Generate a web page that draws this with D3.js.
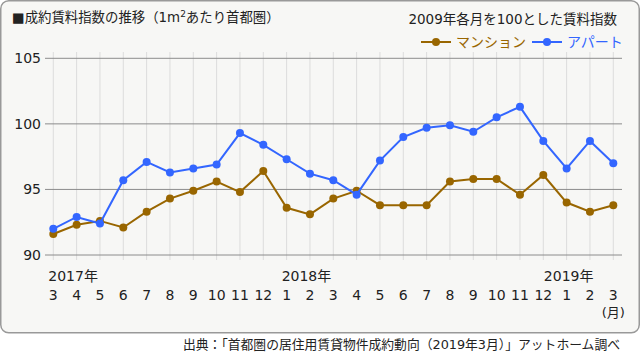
<!DOCTYPE html>
<html>
<head>
<meta charset="utf-8">
<script src="https://cdn.jsdelivr.net/npm/d3@7"></script>
<style>
  body { margin: 0; background: #fff; }
  svg { display: block; font-family: "DejaVu Sans", "Noto Sans CJK JP", sans-serif; }
</style>
</head>
<body>
<div id="chart"></div>
<script>
// months from 2017/3 to 2019/3
const months = [3, 4, 5, 6, 7, 8, 9, 10, 11, 12, 1, 2, 3, 4, 5, 6, 7, 8, 9, 10, 11, 12, 1, 2, 3];
const yearLabels = [{ i: 0, text: "2017年" }, { i: 10, text: "2018年" }, { i: 22, text: "2019年" }];
const mansion = [91.6, 92.3, 92.6, 92.1, 93.3, 94.3, 94.9, 95.6, 94.8, 96.4, 93.6, 93.1, 94.3, 94.9,
                 93.8, 93.8, 93.8, 95.6, 95.8, 95.8, 94.6, 96.1, 94.0, 93.3, 93.8];
const apart = [92.0, 92.9, 92.4, 95.7, 97.1, 96.3, 96.6, 96.9, 99.3, 98.4, 97.3, 96.2, 95.7, 94.6,
               97.2, 99.0, 99.7, 99.9, 99.4, 100.5, 101.3, 98.7, 96.6, 98.7, 97.0];
const yTicks = [90, 95, 100, 105];

const series = [
  { name: "マンション", values: mansion, color: "#996600" },
  { name: "アパート", values: apart, color: "#3366ff" }
];

const W = 640, H = 354;
const svg = d3.select("#chart").append("svg")
  .attr("width", W).attr("height", H);

// panel
svg.append("rect")
  .attr("x", 0.75).attr("y", 0.75)
  .attr("width", W - 1.5).attr("height", 332)
  .attr("rx", 8)
  .attr("fill", "#f7f7f5")
  .attr("stroke", "#999").attr("stroke-width", 1.5);

const x = d3.scaleLinear().domain([0, months.length - 1]).range([53.3, 613.3]);
const y = d3.scaleLinear().domain([90, 105]).range([255, 58.3]);

// vertical grid
svg.append("g").selectAll("line")
  .data(months)
  .join("line")
  .attr("x1", (d, i) => x(i)).attr("x2", (d, i) => x(i))
  .attr("y1", 52).attr("y2", 260)
  .attr("stroke", "#dcdcdc").attr("stroke-width", 1);

// horizontal grid
svg.append("g").selectAll("line")
  .data(yTicks)
  .join("line")
  .attr("x1", 45).attr("x2", 622)
  .attr("y1", d => y(d)).attr("y2", d => y(d))
  .attr("stroke", "#8c8c8c").attr("stroke-width", 1);

svg.append("g").selectAll("text")
  .data(yTicks)
  .join("text")
  .attr("x", 41).attr("y", d => y(d))
  .attr("dy", "0.36em")
  .attr("text-anchor", "end")
  .attr("font-size", 14)
  .attr("fill", "#222")
  .text(d => d);

// month labels
svg.append("g").selectAll("text")
  .data(months)
  .join("text")
  .attr("x", (d, i) => x(i)).attr("y", 300)
  .attr("text-anchor", "middle")
  .attr("font-size", 14)
  .attr("fill", "#222")
  .text(d => d);

svg.append("g").selectAll("text")
  .data(yearLabels)
  .join("text")
  .attr("x", d => d.i === 22 ? x(d.i) + 2 : x(d.i) - 5).attr("y", 281)
  .attr("text-anchor", d => d.i === 22 ? "middle" : "start")
  .attr("font-size", 14)
  .attr("fill", "#222")
  .text(d => d.text);

svg.append("text")
  .attr("x", x(months.length - 1)).attr("y", 317)
  .attr("text-anchor", "middle")
  .attr("font-size", 13).attr("fill", "#222")
  .text("(月)");

// lines
const line = d3.line()
  .x((d, i) => x(i))
  .y(d => y(d));

series.forEach(s => {
  svg.append("path")
    .datum(s.values)
    .attr("fill", "none")
    .attr("stroke", s.color)
    .attr("stroke-width", 2)
    .attr("d", line);
  svg.append("g").selectAll("circle")
    .data(s.values)
    .join("circle")
    .attr("cx", (d, i) => x(i)).attr("cy", d => y(d))
    .attr("r", 4)
    .attr("fill", s.color);
});

// titles
svg.append("text")
  .attr("x", 12).attr("y", 22)
  .attr("font-size", 13.4).attr("fill", "#222")
  .html("■成約賃料指数の推移（1m<tspan dy='-5' font-size='9'>2</tspan><tspan dy='5'>あたり首都圏）</tspan>");

svg.append("text")
  .attr("x", 617).attr("y", 24)
  .attr("text-anchor", "end")
  .attr("font-size", 13.5).attr("fill", "#222")
  .text("2009年各月を100とした賃料指数");

// legend
const legendX = [421, 532];
series.forEach((s, k) => {
  const g = svg.append("g").attr("transform", `translate(${legendX[k]},42)`);
  g.append("line").attr("x1", 0).attr("x2", 30).attr("y1", 0).attr("y2", 0)
    .attr("stroke", s.color).attr("stroke-width", 2);
  g.append("circle").attr("cx", 15).attr("cy", 0).attr("r", 4).attr("fill", s.color);
  g.append("text").attr("x", 35).attr("y", 0).attr("dy", "0.36em")
    .attr("font-size", 14).attr("fill", s.color)
    .text(s.name);
});

// source
svg.append("text")
  .attr("x", 620).attr("y", 349)
  .attr("text-anchor", "end")
  .attr("font-size", 12.8).attr("fill", "#222")
  .text("出典：「首都圏の居住用賃貸物件成約動向（2019年3月）」アットホーム調べ");
</script>
</body>
</html>
